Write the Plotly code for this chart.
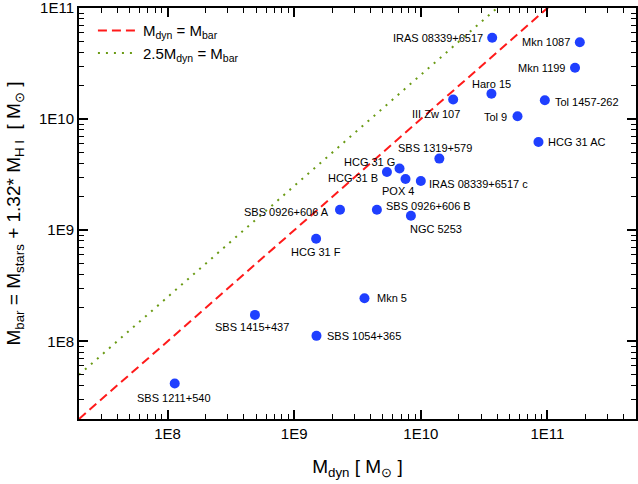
import numpy as np
import plotly.graph_objects as go

# galaxy names and masses (solar masses)
names = ["IRAS 08339+6517", "Mkn 1087", "Mkn 1199", "Haro 15", "III Zw 107",
         "Tol 1457-262", "Tol 9", "HCG 31 AC", "SBS 1319+579", "HCG 31 G",
         "HCG 31 B", "POX 4", "IRAS 08339+6517 c", "SBS 0926+606 A",
         "SBS 0926+606 B", "NGC 5253", "HCG 31 F", "Mkn 5", "SBS 1054+365",
         "SBS 1415+437", "SBS 1211+540"]
m_dyn = [3.66e10, 1.80e11, 1.65e11, 3.61e10, 1.80e10,
         9.53e10, 5.80e10, 8.49e10, 1.40e10, 6.79e9,
         5.40e9, 7.57e9, 1.00e10, 2.30e9,
         4.50e9, 8.35e9, 1.49e9, 3.59e9, 1.50e9,
         4.90e8, 1.14e8]
m_bar = [5.40e10, 4.91e10, 2.90e10, 1.69e10, 1.50e10,
         1.48e10, 1.06e10, 6.23e9, 4.41e9, 3.59e9,
         3.34e9, 2.89e9, 2.77e9, 1.53e9,
         1.53e9, 1.35e9, 8.38e8, 2.44e8, 1.12e8,
         1.73e8, 4.18e7]

x_range = [2e7, 5e11]
y_range = [2e7, 1e11]
decades = [1e8, 1e9, 1e10, 1e11]
decade_labels = ["1E8", "1E9", "1E10", "1E11"]

# label placement: (xanchor, dx, dy) in pixels
label_pos = {
    "IRAS 08339+6517": ("right", -7, 0),
    "Mkn 1087": ("right", -8, 0),
    "Mkn 1199": ("right", -7, 0),
    "Haro 15": ("center", 0, 10),
    "III Zw 107": ("center", -17, -14),
    "Tol 1457-262": ("left", 8, -2),
    "Tol 9": ("right", -9, -1),
    "HCG 31 AC": ("left", 8, 0),
    "SBS 1319+579": ("center", -4, 11),
    "HCG 31 G": ("right", -3, 7),
    "HCG 31 B": ("right", -7, -6),
    "POX 4": ("center", -8, -12),
    "IRAS 08339+6517 c": ("left", 6, -3),
    "SBS 0926+606 A": ("right", -9, -2),
    "SBS 0926+606 B": ("left", 7, 4),
    "NGC 5253": ("center", 25, -13),
    "HCG 31 F": ("center", 0, -13),
    "Mkn 5": ("left", 11, 0),
    "SBS 1054+365": ("left", 9, 0),
    "SBS 1415+437": ("center", -3, -12),
    "SBS 1211+540": ("center", -1, -15),
}

font = "Arial, Liberation Sans, sans-serif"

minor_vals = [m * 10 ** e for e in range(7, 12) for m in range(2, 10)]

fig = go.Figure()

line_x = np.array(x_range)
fig.add_trace(go.Scatter(x=line_x, y=line_x, mode="lines",
                         name="M<sub>dyn</sub> = M<sub>bar</sub>",
                         line=dict(color="#ff1a1a", width=2, dash="9px,5px")))
fig.add_trace(go.Scatter(x=line_x, y=2.5 * line_x, mode="lines",
                         name="2.5M<sub>dyn</sub> = M<sub>bar</sub>",
                         line=dict(color="#6a9a14", width=2, dash="2px,6px")))
fig.add_trace(go.Scatter(x=m_dyn, y=m_bar, mode="markers", showlegend=False,
                         marker=dict(color="#1f3fff", size=10)))

for n, xv, yv in zip(names, m_dyn, m_bar):
    anchor, dx, dy = label_pos[n]
    fig.add_annotation(x=np.log10(xv), y=np.log10(yv), text=n, showarrow=False,
                       xanchor=anchor, yanchor="middle", xshift=dx, yshift=dy,
                       font=dict(size=11, color="black", family=font))

axis_style = dict(type="log", showline=True, linewidth=2, linecolor="black",
                  mirror="ticks", ticks="inside", ticklen=9, tickwidth=1.5,
                  tickcolor="black", showgrid=False, zeroline=False,
                  automargin=False, ticklabeloverflow="allow",
                  tickvals=decades, ticktext=decade_labels,
                  tickfont=dict(size=15, color="black", family=font),
                  minor=dict(ticks="inside", ticklen=5, tickwidth=1.2,
                             tickcolor="black", tickvals=minor_vals, showgrid=False))

fig.update_xaxes(range=[np.log10(x_range[0]), np.log10(x_range[1])], **axis_style,
                 title=dict(text="M<sub>dyn</sub> [ M<sub>\u2299</sub> ]",
                            font=dict(size=19, color="black", family=font), standoff=19))
fig.update_yaxes(range=[np.log10(y_range[0]), np.log10(y_range[1])], **axis_style,
                 title=dict(text="M<sub>bar</sub> = M<sub>stars</sub> + 1.32* M<sub>H I</sub>"
                                 "  [ M<sub>\u2299</sub> ]",
                            font=dict(size=19, color="black", family=font), standoff=13))

fig.update_layout(
    width=638, height=484,
    margin=dict(l=79, r=2, t=8, b=65),
    plot_bgcolor="white", paper_bgcolor="white",
    font=dict(family=font, color="black"),
    legend=dict(x=0.025, y=0.985, xanchor="left", yanchor="top",
                bgcolor="rgba(0,0,0,0)", font=dict(size=15, family=font),
                tracegroupgap=0, itemwidth=40),
)

fig.write_html("out.html", config={"displayModeBar": False},
               post_script="document.body.style.margin='0px';")
